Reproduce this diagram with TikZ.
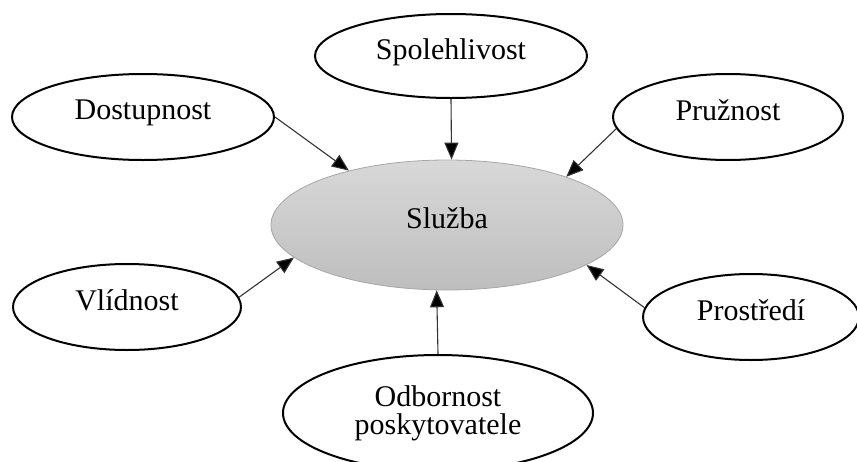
\documentclass[tikz,border=0pt]{standalone}
\usepackage{fontspec}
\setmainfont{Liberation Serif}
\usetikzlibrary{arrows.meta, shapes.geometric}

\definecolor{sluzbatop}{HTML}{D8D8D8}
\definecolor{sluzbabot}{HTML}{BEBEBE}

\begin{document}
\begin{tikzpicture}[
  x=1pt, y=-1pt,
  oval/.style={draw, ellipse, line width=2pt, inner sep=0pt, align=center,
               font=\fontsize{30}{28}\selectfont},
  link/.style={-{Triangle[length=17pt,width=14pt,fill=black]}, draw=black!80, line width=1.1pt}
]
  \useasboundingbox (0,0) rectangle (857,461);

  \node[draw=black!35, line width=0.8pt, ellipse, top color=sluzbatop, bottom color=sluzbabot,
        minimum width=352pt, minimum height=130pt, font=\fontsize{30}{34}\selectfont,
        text depth=14pt] (sluzba) at (447,225) {Služba};

  \node[oval, minimum width=262pt, minimum height=86pt, text depth=14pt] (dost) at (143,117) {Dostupnost};
  \node[oval, minimum width=272pt, minimum height=84pt, text depth=14pt] (spol) at (451,56) {Spolehlivost};
  \node[oval, minimum width=230pt, minimum height=86pt, text depth=14pt] (pruz) at (728,117) {Pružnost};
  \node[oval, minimum width=228pt, minimum height=86pt, text depth=14pt] (vlid) at (127,307) {Vlídnost};
  \node[oval, minimum width=216pt, minimum height=86pt, text depth=14pt] (prost) at (751,317) {Prostředí};
  \node[oval, minimum width=310pt, minimum height=116pt] (odb) at (438,413) {Odbornost\\poskytovatele};

  \draw[link] (dost.east) -- (sluzba.151);
  \draw[link] (spol.south) -- (sluzba.86);
  \draw[link] (pruz.186) -- (sluzba.22);
  \draw[link] (vlid.5) -- (sluzba.192);
  \draw[link] (prost.175) -- (sluzba.-16);
  \draw[link] (odb.north) -- (sluzba.-99);
\end{tikzpicture}
\end{document}
